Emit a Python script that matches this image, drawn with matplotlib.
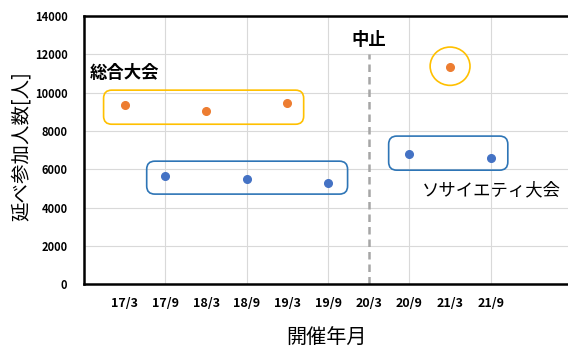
import matplotlib
matplotlib.use('Agg')

import matplotlib.pyplot as plt
from matplotlib.patches import FancyBboxPatch, Ellipse

plt.rcParams['font.family'] = ['Noto Sans CJK JP', 'DejaVu Sans']

# 開催年月
months = ['17/3', '17/9', '18/3', '18/9', '19/3', '19/9', '20/3', '20/9', '21/3', '21/9']
pos = list(range(1, len(months) + 1))

# 総合大会 (3月開催)
general_x = [1, 3, 5, 9]
general_y = [9350, 9050, 9450, 11350]

# ソサイエティ大会 (9月開催)
society_x = [2, 4, 6, 8, 10]
society_y = [5650, 5500, 5300, 6800, 6600]

cancel_x = 7  # 20/3 中止

fig = plt.figure(figsize=(5.68, 3.49), dpi=100)
ax = fig.add_axes([0.148, 0.186, 0.852, 0.768])

ax.set_xlim(0, 11.9)
ax.set_ylim(0, 14000)

# grid
for y in range(2000, 14001, 2000):
    ax.axhline(y, color='#d9d9d9', lw=0.8, zorder=0)
for x in pos[1::2]:
    ax.axvline(x, color='#d9d9d9', lw=0.8, zorder=0)

ax.plot(general_x, general_y, 'o', color='#ED7D31', ms=5.5, zorder=3)
ax.plot(society_x, society_y, 'o', color='#4472C4', ms=5.5, zorder=3)

# 中止ライン
ax.plot([cancel_x, cancel_x], [0, 12000], ls=(0, (3, 2)), color='#a6a6a6', lw=1.8, zorder=2)
ax.text(cancel_x, 12300, '中止', ha='center', va='bottom', fontsize=12.5, fontweight='bold')

# 囲み枠
aspect = 2124
def box(x0, x1, y0, y1, color):
    p = FancyBboxPatch((x0, y0), x1 - x0, y1 - y0,
                       boxstyle='round,pad=0,rounding_size=0.2',
                       mutation_aspect=aspect, fc='none', ec=color, lw=1.2, zorder=2)
    ax.add_patch(p)

box(0.48, 5.4, 8350, 10130, '#FFC000')
box(1.54, 6.48, 4700, 6420, '#2E75B6')
box(7.49, 10.42, 5950, 7730, '#2E75B6')
ax.add_patch(Ellipse((general_x[3], general_y[3] + 30), 0.98, 2000,
                     fc='none', ec='#FFC000', lw=1.2, zorder=2))

ax.text(0.15, 10550, '総合大会', fontsize=12.5, fontweight='bold', va='bottom')
ax.text(8.3, 4900, 'ソサイエティ大会', fontsize=12.5, va='center')

# axes style
for s in ['left', 'bottom', 'top']:
    ax.spines[s].set_linewidth(1.8)
    ax.spines[s].set_color('black')
ax.spines['right'].set_visible(False)

ax.set_xticks(pos)
ax.set_xticklabels(months, fontsize=9, fontweight='bold')
ax.set_yticks(range(0, 14001, 2000))
ax.set_yticklabels([str(v) for v in range(0, 14001, 2000)], fontsize=8, fontweight='bold')
ax.tick_params(axis='both', length=0)
ax.tick_params(axis='x', pad=9)
ax.tick_params(axis='y', pad=12)

fig.text(0.575, 0.03, '開催年月', ha='center', va='center', fontsize=14.5)
fig.text(0.037, 0.58, '延べ参加人数[人]', ha='center', va='center', rotation=90, fontsize=14)

fig.savefig('out.png', dpi=100)
